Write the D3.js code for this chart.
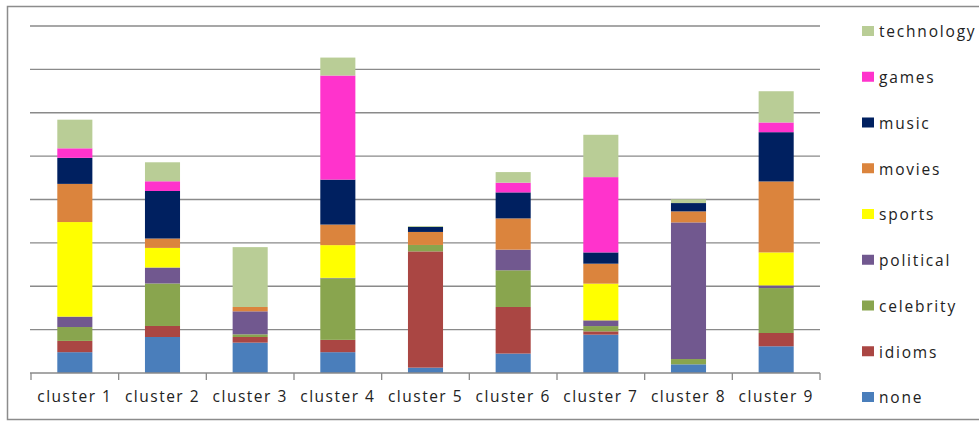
<!DOCTYPE html>
<html>
<head>
<meta charset="utf-8">
<script src="https://cdn.jsdelivr.net/npm/d3@7"></script>
<style>
  body { margin: 0; background: #fff; }
  #chart { width: 979px; height: 422px; }
  text { font-family: "Open Sans", "DejaVu Sans", sans-serif; fill: #222; }
</style>
</head>
<body>
<div id="chart"></div>
<script>
// Data (stack order: bottom to top)
const clusters = ["cluster 1", "cluster 2", "cluster 3", "cluster 4", "cluster 5",
                  "cluster 6", "cluster 7", "cluster 8", "cluster 9"];
const seriesNames = ["none", "idioms", "celebrity", "political", "sports",
                     "movies", "music", "games", "technology"];
const none       = [2.4, 4.15, 3.5, 2.4, 0.62, 2.24, 4.42, 1.0, 3.08];
const idioms     = [1.3, 1.27, 0.65, 1.42, 13.4, 5.37, 0.38, 0, 1.53];
const celebrity  = [1.6, 4.9, 0.31, 7.1, 0.74, 4.23, 0.61, 0.61, 5.18];
const political  = [1.2, 1.84, 2.65, 0.05, 0, 2.38, 0.66, 15.75, 0.31];
const sports     = [10.9, 2.26, 0, 3.77, 0, 0, 4.23, 0, 3.8];
const movies     = [4.4, 1.08, 0.5, 2.37, 1.5, 3.6, 2.3, 1.27, 8.18];
const music      = [3.0, 5.48, 0, 5.18, 0.58, 3.0, 1.3, 0.96, 5.68];
const games      = [1.1, 1.12, 0, 12.0, 0, 1.12, 8.68, 0, 1.12];
const technology = [3.3, 2.19, 6.9, 2.07, 0.1, 1.22, 4.88, 0.43, 3.6];
const yTicks = [0, 5, 10, 15, 20, 25, 30, 35, 40];

const seriesValues = { none, idioms, celebrity, political, sports, movies, music, games, technology };
const colors = {
    none: "#4a7ebb", idioms: "#aa4643", celebrity: "#89a54e", political: "#71588f",
    sports: "#ffff00", movies: "#db843d", music: "#002060", games: "#ff33cc", technology: "#b9cd96"
};

const W = 979, H = 422;
const plot = { left: 31, right: 820, top: 26, bottom: 373 };

const svg = d3.select("#chart").append("svg")
    .attr("width", W)
    .attr("height", H);

// outer frame
svg.append("rect")
    .attr("x", 7.5).attr("y", 6.5)
    .attr("width", W + 5).attr("height", 413)
    .attr("fill", "none")
    .attr("stroke", "#8c8c8c")
    .attr("stroke-width", 1.5);

// Scales
const x = d3.scaleBand().domain(clusters).range([plot.left, plot.right]).padding(0);
const y = d3.scaleLinear().domain([0, 40]).range([plot.bottom, plot.top]);

// gridlines
svg.append("g")
    .selectAll("line")
    .data(yTicks.slice(1))
    .enter().append("line")
    .attr("x1", plot.left - 1).attr("x2", plot.right)
    .attr("y1", d => y(d)).attr("y2", d => y(d))
    .attr("stroke", "#8a8a8a")
    .attr("stroke-width", 1.3);

// stacked data
const rows = clusters.map((c, i) => {
    const r = { cluster: c };
    seriesNames.forEach(s => { r[s] = seriesValues[s][i]; });
    return r;
});
const stacked = d3.stack().keys(seriesNames)(rows);

const barW = x.bandwidth() * 0.4;
svg.append("g")
    .selectAll("g")
    .data(stacked)
    .enter().append("g")
    .attr("fill", d => colors[d.key])
    .selectAll("rect")
    .data(d => d)
    .enter().append("rect")
    .attr("x", d => x(d.data.cluster) + (x.bandwidth() - barW) / 2)
    .attr("width", barW)
    .attr("y", d => y(d[1]))
    .attr("height", d => y(d[0]) - y(d[1]));

// x axis
const xAxis = d3.axisBottom(x).tickSize(0).tickPadding(18);
const gx = svg.append("g")
    .attr("transform", `translate(0,${plot.bottom})`)
    .call(xAxis);
gx.select(".domain").remove();
gx.selectAll("text")
    .attr("font-size", "15.5px")
    .attr("letter-spacing", "1.5px")
    .attr("fill", "#222");

gx.append("line")
    .attr("x1", plot.left - 1).attr("x2", plot.right)
    .attr("y1", 0).attr("y2", 0)
    .attr("stroke", "#8a8a8a")
    .attr("stroke-width", 1.3);

// category separator ticks
const bounds = clusters.map(c => x(c)).concat([plot.right]);
gx.selectAll(".sep")
    .data(bounds)
    .enter().append("line")
    .attr("class", "sep")
    .attr("x1", d => d).attr("x2", d => d)
    .attr("y1", 0).attr("y2", 7)
    .attr("stroke", "#8a8a8a")
    .attr("stroke-width", 1.3);

// legend (top to bottom: reversed stack order)
const legendItems = seriesNames.slice().reverse();
const legend = svg.append("g")
    .selectAll("g")
    .data(legendItems)
    .enter().append("g")
    .attr("transform", (d, i) => `translate(862,${32 + i * 45.75})`);

legend.append("rect")
    .attr("x", 0).attr("y", -6)
    .attr("width", 12).attr("height", 10)
    .attr("fill", d => colors[d]);

legend.append("text")
    .attr("x", 17)
    .attr("y", 0)
    .attr("dy", "0.35em")
    .attr("font-size", "15.5px")
    .attr("letter-spacing", "1.8px")
    .text(d => d);
</script>
</body>
</html>
